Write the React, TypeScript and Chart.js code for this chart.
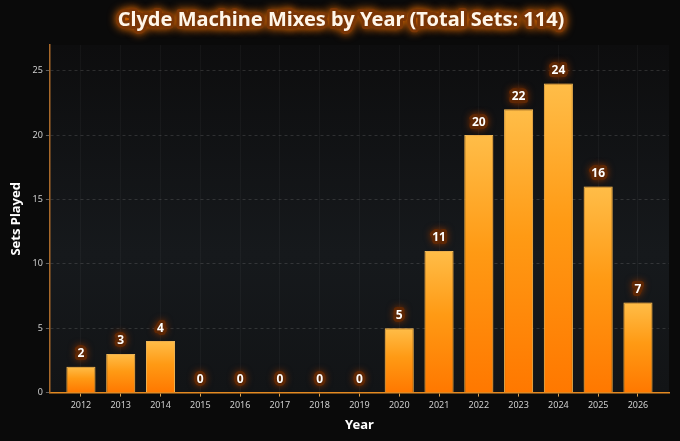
import { useEffect, useRef } from "react"
import { Chart, registerables } from "chart.js"

Chart.register(...registerables)

const years = ["2012", "2013", "2014", "2015", "2016", "2017", "2018", "2019", "2020", "2021", "2022", "2023", "2024", "2025", "2026"]
const setsPlayed = [2, 3, 4, 0, 0, 0, 0, 0, 5, 11, 20, 22, 24, 16, 7]
const yTicks = [0, 5, 10, 15, 20, 25]
const totalSets = 114

const FONT = "'Noto Sans', 'Open Sans', sans-serif"

// dark page + softly lit plot area
const backdrop = {
  id: "backdrop",
  beforeDraw(chart: Chart) {
    const { ctx, chartArea: a, width, height } = chart
    ctx.save()
    ctx.fillStyle = "#0a0a0a"
    ctx.fillRect(0, 0, width, height)
    const g = ctx.createLinearGradient(0, a.top, 0, a.bottom)
    g.addColorStop(0, "#0d0d0e")
    g.addColorStop(0.6, "#16191c")
    g.addColorStop(1, "#121416")
    ctx.fillStyle = g
    ctx.fillRect(a.left, a.top, a.right - a.left, a.bottom - a.top)
    ctx.restore()
  },
}

// orange glow round the bars
const barGlow = {
  id: "barGlow",
  beforeDatasetDraw(chart: Chart) {
    const ctx = chart.ctx
    ctx.save()
    ctx.shadowColor = "rgba(255, 140, 0, 0.55)"
    ctx.shadowBlur = 10
  },
  afterDatasetDraw(chart: Chart) {
    chart.ctx.restore()
  },
}

// value labels and the glowing title
const labels = {
  id: "labels",
  afterDatasetsDraw(chart: Chart) {
    const { ctx } = chart
    const meta = chart.getDatasetMeta(0)
    ctx.save()
    ctx.font = `bold 12px ${FONT}`
    ctx.textAlign = "center"
    ctx.textBaseline = "middle"
    meta.data.forEach((bar: any, i: number) => {
      const y = bar.y - 13
      ctx.shadowColor = "rgba(130, 50, 0, 0.95)"
      ctx.shadowBlur = 7
      ctx.lineJoin = "round"
      ctx.strokeStyle = "#5e2704"
      ctx.lineWidth = 6
      ctx.strokeText(String(setsPlayed[i]), bar.x, y)
      ctx.shadowBlur = 0
      ctx.fillStyle = "#ffffff"
      ctx.fillText(String(setsPlayed[i]), bar.x, y)
    })
    ctx.restore()
  },
  afterDraw(chart: Chart) {
    const { ctx, width } = chart
    const text = `Clyde Machine Mixes by Year (Total Sets: ${totalSets})`
    ctx.save()
    ctx.font = `bold 20px ${FONT}`
    ctx.textAlign = "center"
    ctx.textBaseline = "middle"
    ctx.shadowColor = "rgba(255, 120, 0, 0.9)"
    ctx.shadowBlur = 8
    ctx.lineJoin = "round"
    ctx.strokeStyle = "#7a3606"
    ctx.lineWidth = 6
    ctx.strokeText(text, width / 2 + 1, 20)
    ctx.shadowBlur = 0
    ctx.fillStyle = "#fff6ea"
    ctx.fillText(text, width / 2 + 1, 20)
    ctx.restore()
  },
}

export default function App() {
  const chartRef = useRef<HTMLCanvasElement>(null)
  const chartInstance = useRef<Chart | null>(null)

  useEffect(() => {
    document.body.style.margin = "0"
    document.body.style.background = "#0a0a0a"
    if (!chartRef.current) return
    if (chartInstance.current) chartInstance.current.destroy()

    chartInstance.current = new Chart(chartRef.current, {
      type: "bar",
      data: {
        labels: years,
        datasets: [
          {
            label: "Sets Played",
            data: setsPlayed,
            backgroundColor: (c: any) => {
              const chart = c.chart
              const y = chart.scales?.y
              if (!y || !chart.chartArea || c.parsed == null) return "#ff9a1a"
              const top = y.getPixelForValue(c.parsed.y)
              const bottom = y.getPixelForValue(0)
              if (bottom - top < 1) return "#ffb640"
              const g = chart.ctx.createLinearGradient(0, top, 0, bottom)
              g.addColorStop(0, "#ffbd48")
              g.addColorStop(0.45, "#ff9a14")
              g.addColorStop(1, "#ff7800")
              return g
            },
            borderColor: "rgba(255, 205, 110, 0.9)",
            borderWidth: 1,
            barPercentage: 0.73,
            categoryPercentage: 1,
          },
        ],
      },
      options: {
        responsive: true,
        maintainAspectRatio: false,
        animation: false,
        layout: { padding: { top: 45, right: 11, left: 4, bottom: 4 } },
        plugins: {
          legend: { display: false },
          title: { display: false },
          tooltip: { enabled: false },
        },
        scales: {
          x: {
            afterBuildTicks: (scale: any) => {
              const pad = 0.28
              scale._startValue -= pad
              scale._valueRange += pad * 2
            },
            grid: {
              offset: false,
              color: "rgba(255, 255, 255, 0.035)",
              tickColor: "#d9a050",
              tickLength: 4,
            },
            border: { color: "#e38a22", width: 1.5 },
            ticks: { color: "#cfcfcf", font: { family: FONT, size: 9 }, padding: 3 },
            title: {
              display: true,
              text: "Year",
              color: "#ffffff",
              font: { family: FONT, size: 13, weight: "bold" },
              padding: { top: 4 },
            },
          },
          y: {
            min: 0,
            max: 27,
            afterBuildTicks: (scale: any) => {
              scale.ticks = yTicks.map((v) => ({ value: v }))
            },
            grid: {
              color: "rgba(255, 255, 255, 0.13)",
              tickColor: "rgba(255, 255, 255, 0.35)",
              tickLength: 4,
            },
            // in Chart.js 4 the grid dash lives on border
            border: { color: "#a8692a", width: 1.5, dash: [3, 3] },
            ticks: { color: "#cfcfcf", font: { family: FONT, size: 9 }, padding: 3 },
            title: {
              display: true,
              text: "Sets Played",
              color: "#ffffff",
              font: { family: FONT, size: 13, weight: "bold" },
              padding: { bottom: 6 },
            },
          },
        },
      },
      plugins: [backdrop, barGlow, labels],
    })

    return () => {
      if (chartInstance.current) {
        chartInstance.current.destroy()
        chartInstance.current = null
      }
    }
  }, [])

  return (
    <div style={{ position: "fixed", left: 0, top: 0, width: 680, height: 441, background: "#0a0a0a" }}>
      <canvas ref={chartRef} />
    </div>
  )
}
